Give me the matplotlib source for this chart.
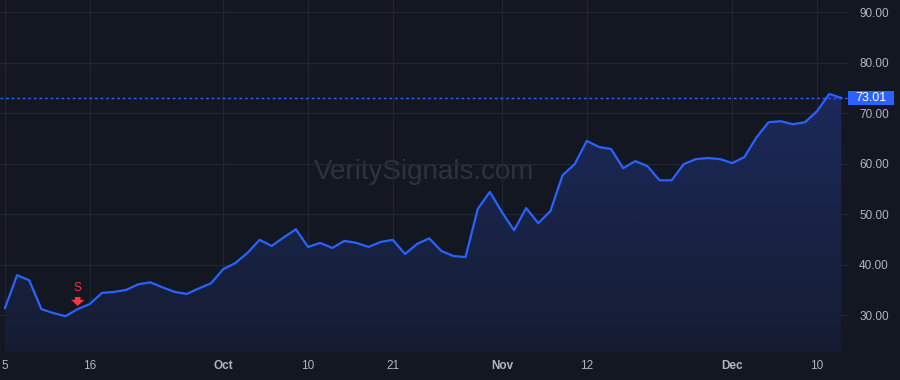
import numpy as np
import matplotlib
matplotlib.use("Agg")
import matplotlib.pyplot as plt
from matplotlib.patches import Polygon, Rectangle

plt.rcParams['font.family'] = ['Liberation Sans', 'DejaVu Sans']

# daily closes
prices = [31.4, 37.9, 36.9, 31.2, 30.4, 29.8, 31.2, 32.2, 34.4, 34.6,
          35.0, 36.1, 36.5, 35.5, 34.6, 34.2, 35.3, 36.3, 39.1, 40.3,
          42.3, 44.9, 43.7, 45.4, 47.0, 43.5, 44.3, 43.3, 44.7, 44.3,
          43.5, 44.5, 44.9, 42.1, 44.1, 45.2, 42.7, 41.7, 41.5, 51.0,
          54.4, 50.4, 46.8, 51.2, 48.2, 50.6, 57.7, 59.9, 64.5, 63.3,
          62.9, 59.1, 60.5, 59.5, 56.7, 56.7, 59.9, 60.9, 61.1, 60.9,
          60.1, 61.3, 65.2, 68.2, 68.4, 67.8, 68.2, 70.4, 73.8, 73.01]
last_price = 73.01

tick_idx = [0, 7, 18, 25, 32, 41, 48, 60, 67]
tick_lbl = ['5', '16', 'Oct', '10', '21', 'Nov', '12', 'Dec', '10']
month_lbl = {'Oct', 'Nov', 'Dec'}

sell_idx = 6
price_ticks = [30, 40, 50, 60, 70, 80, 90]

bg = '#131722'
grid_c = '#232632'
blue = '#2962ff'
red = '#f23645'
txt_c = '#b2b5be'

fig = plt.figure(figsize=(9, 3.8), dpi=100, facecolor=bg)
ax = fig.add_axes([0, 28 / 380, 848 / 900, 352 / 380])
ax.set_facecolor(bg)

x = np.arange(len(prices))
ax.set_xlim(-0.41, 69.55)
ax.set_ylim(22.7, 92.4)

# gradient area under the line
ymin, ymax = ax.get_ylim()
grad = np.linspace(0.08, 0.28, 256).reshape(-1, 1)
cmap = matplotlib.colors.LinearSegmentedColormap.from_list('g', [bg, '#1c2b5e'])
img = ax.imshow(grad, extent=[x[0], x[-1], ymin, max(prices)], origin='lower',
                aspect='auto', cmap=cmap, vmin=0, vmax=0.3, zorder=1)
poly = Polygon(np.column_stack([np.r_[x[0], x, x[-1]], np.r_[ymin, prices, ymin]]),
               closed=True, transform=ax.transData, facecolor='none', edgecolor='none')
ax.add_patch(poly)
img.set_clip_path(poly)

ax.plot(x, prices, color=blue, lw=1.6, zorder=3, solid_joinstyle='round')

ax.axhline(last_price, color=blue, lw=1, ls=(0, (2, 2)), zorder=2)

# grid
ax.set_yticks(price_ticks)
ax.set_xticks(tick_idx)
ax.grid(True, color=grid_c, lw=0.9)
ax.set_axisbelow(True)
for s in ax.spines.values():
    s.set_visible(False)

ax.yaxis.tick_right()
ax.set_yticklabels(['%.2f' % v for v in price_ticks])
ax.tick_params(axis='y', length=0, pad=8, labelsize=8.5, labelcolor=txt_c)
ax.set_xticklabels(tick_lbl)
ax.tick_params(axis='x', length=0, pad=6, labelsize=8.5, labelcolor=txt_c)
for lab in ax.get_xticklabels():
    if lab.get_text() in month_lbl:
        lab.set_fontweight('bold')

# last price tag on the price scale
ty = ax.transData.transform((0, last_price))[1] / fig.bbox.height
fig.patches.append(Rectangle((848 / 900, ty - 7 / 380), 46 / 900, 14 / 380,
                             transform=fig.transFigure, facecolor=blue,
                             edgecolor='none', zorder=5))
fig.text(871 / 900, ty, '%.2f' % last_price, ha='center', va='center',
         fontsize=9, color='white', zorder=6)

# sell signal
sy = prices[sell_idx]
ax.annotate('', xy=(sell_idx, sy + 0.6), xytext=(sell_idx, sy + 2.4),
            arrowprops=dict(arrowstyle='simple,head_width=0.95,head_length=0.45,tail_width=0.4',
                            color=red, lw=0, shrinkA=0, shrinkB=0, mutation_scale=10),
            zorder=4)
ax.text(sell_idx, sy + 4.15, 'S', color=red, fontsize=8.5, ha='center', va='center', zorder=4)

# watermark
ax.text(0.5, 0.51, 'VeritySignals.com', transform=ax.transAxes,
        ha='center', va='center', fontsize=20, color='#363a45', alpha=0.8, zorder=0)

fig.savefig('out.png', dpi=100, facecolor=bg)
